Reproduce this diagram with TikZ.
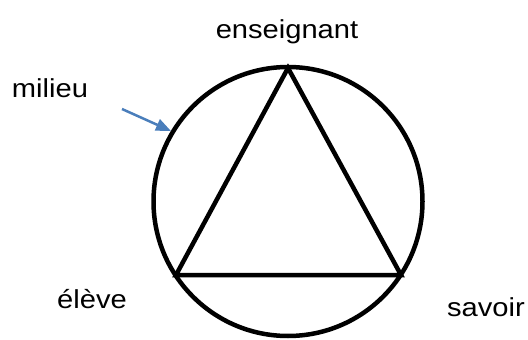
\documentclass[tikz,border=0pt]{standalone}
\usepackage{fontspec}
\setmainfont[FakeStretch=1.12]{Liberation Sans}
\usetikzlibrary{arrows.meta}
\definecolor{arrowblue}{RGB}{74,126,187}
\begin{document}
\begin{tikzpicture}[x=1pt,y=-1pt,
  lbl/.style={anchor=base,inner sep=0pt,font=\fontsize{26}{30}\selectfont},
  thick4/.style={line width=4.5pt,black},
  pointer/.style={line width=2.5pt,arrowblue,-{Triangle[length=15pt,width=12pt]}}]
\useasboundingbox (0,0) rectangle (528,340);
\coordinate (O) at (288,201.5);
\coordinate (T) at (288,68);
\coordinate (L) at (176,275);
\coordinate (R) at (401,275);
\draw[thick4] (O) circle[radius=134.5];
\draw[thick4,line join=miter] (T) -- (L) -- (R) -- cycle;
\node[lbl] (ens) at (287,38) {enseignant};
\node[lbl] (mil) at (50,97) {milieu};
\node[lbl] (ele) at (92,308) {élève};
\node[lbl] (sav) at (486,316) {savoir};
\coordinate (a0) at (122,109);
\coordinate (a1) at (171,131);
\draw[pointer] (a0) -- (a1);
\end{tikzpicture}
\end{document}
